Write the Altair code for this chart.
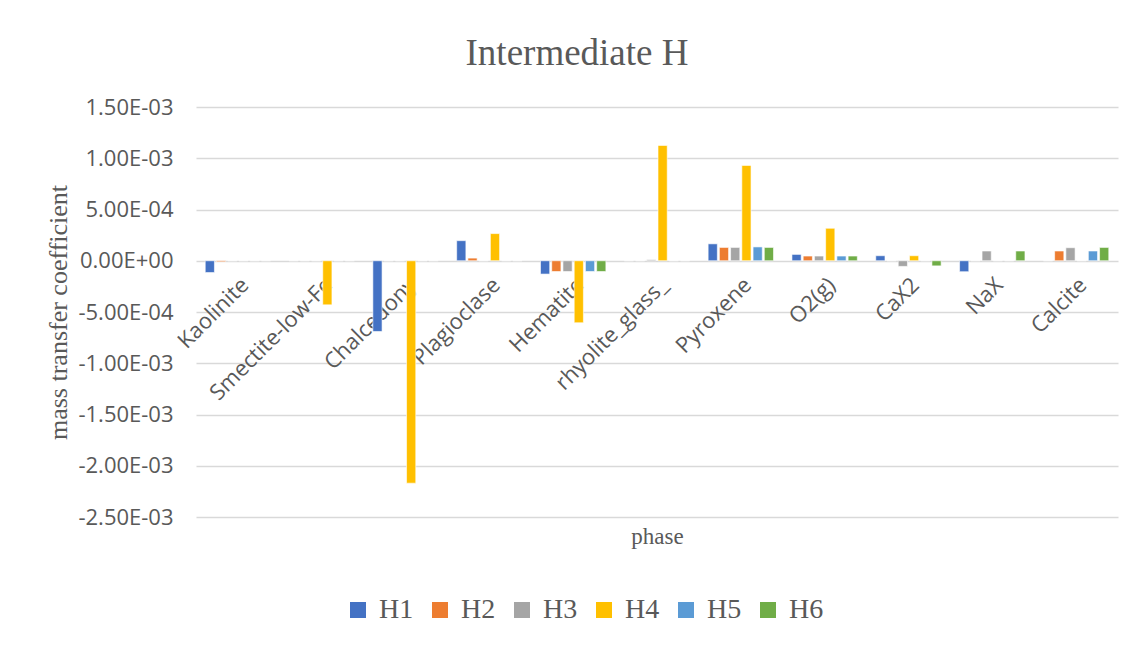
import altair as alt
import pandas as pd

categories = ["Kaolinite", "Smectite-low-Fe", "Chalcedony", "Plagioclase", "Hematite",
              "rhyolite_glass_", "Pyroxene", "O2(g)", "CaX2", "NaX", "Calcite"]
series_names = ["H1", "H2", "H3", "H4", "H5", "H6"]
H1 = [-1.15e-4, 0, -6.9e-4, 1.96e-4, -1.3e-4, 0, 1.65e-4, 6.2e-5, 4.9e-5, -1.07e-4, 0]
H2 = [-1.0e-5, 0, 0, 2.6e-5, -1.05e-4, 0, 1.3e-4, 4.6e-5, 0, 0, 9.5e-5]
H3 = [0, 0, 0, 0, -1.05e-4, 1.0e-5, 1.3e-4, 4.6e-5, -5.5e-5, 9.5e-5, 1.27e-4]
H4 = [0, -4.3e-4, -2.17e-3, 2.65e-4, -6.05e-4, 1.125e-3, 9.3e-4, 3.17e-4, 4.9e-5, 0, 0]
H5 = [0, 0, 0, 0, -1.05e-4, 0, 1.35e-4, 4.6e-5, 0, 0, 9.5e-5]
H6 = [0, 0, 0, 0, -1.05e-4, 0, 1.3e-4, 4.6e-5, -5.0e-5, 9.5e-5, 1.3e-4]
colors = ["#4472C4", "#ED7D31", "#A5A5A5", "#FFC000", "#5B9BD5", "#70AD47"]
y_ticks = [-0.0025, -0.002, -0.0015, -0.001, -0.0005, 0, 0.0005, 0.001, 0.0015]

rows = []
for name, vals in zip(series_names, [H1, H2, H3, H4, H5, H6]):
    for cat, v in zip(categories, vals):
        rows.append({"phase": cat, "series": name, "value": v})
df = pd.DataFrame(rows)

label_expr = ("datum.value == 0 ? '0.00E+00' : "
              "replace(replace(replace(format(datum.value, '.2e'), '\u2212', '-'), 'e-', 'E-0'), 'e+', 'E+0')")

sans = "Open Sans"
serif = "Liberation Serif"
grey = "#595959"

chart = alt.Chart(df).mark_bar(stroke="white", strokeWidth=0.6).encode(
    x=alt.X("phase:N", sort=categories,
            scale=alt.Scale(paddingInner=0.22, paddingOuter=0.11),
            axis=alt.Axis(title="phase", offset=-257, labelAngle=-45, ticks=False,
                          domain=False, grid=False, labelFont=sans, labelFontSize=22,
                          labelColor=grey, labelPadding=14, labelAlign="right",
                          labelBaseline="top",
                          titleFont=serif, titleFontSize=23, titleFontWeight="normal",
                          titleColor=grey, titleY=265, titleBaseline="top")),
    xOffset=alt.XOffset("series:N", sort=series_names, scale=alt.Scale(paddingInner=0.18)),
    y=alt.Y("value:Q", scale=alt.Scale(domain=[-0.0025, 0.0015], nice=False, zero=False),
            axis=alt.Axis(title="mass transfer coefficient", values=y_ticks,
                          labelExpr=label_expr, domain=False, ticks=False,
                          gridColor="#d9d9d9", gridWidth=1.3,
                          labelFont=sans, labelFontSize=22, labelColor=grey,
                          labelPadding=23,
                          titleFont=serif, titleFontSize=26, titleFontWeight="normal",
                          titleColor=grey, titleX=-125)),
    color=alt.Color("series:N", sort=series_names,
                    scale=alt.Scale(domain=series_names, range=colors),
                    legend=alt.Legend(title=None, orient="none", direction="horizontal",
                                      legendX=148, legendY=489, symbolType="square",
                                      symbolSize=256, symbolStrokeWidth=0,
                                      labelFont=serif, labelFontSize=28, labelColor=grey,
                                      labelOffset=7, columnPadding=12, columns=6)),
).properties(
    width=922, height=410,
    title=alt.TitleParams("Intermediate H", font=serif, fontSize=37, color=grey,
                          fontWeight="normal", dx=-80, offset=23),
    autosize="none",
    padding={"left": 188, "top": 99, "right": 9, "bottom": 120},
).configure_view(stroke=None)

chart.save("out.html", embed_options={"renderer": "svg", "actions": False})
